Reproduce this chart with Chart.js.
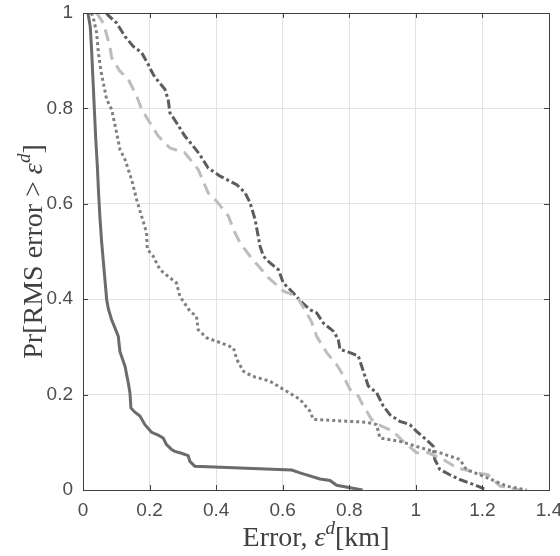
<!DOCTYPE html>
<html>
<head>
<meta charset="utf-8">
<script src="https://cdn.jsdelivr.net/npm/chart.js@4/dist/chart.umd.min.js"></script>
<style>
  body { margin: 0; background: #fff; }
  #wrap { width: 560px; height: 556px; }
</style>
</head>
<body>
<div id="wrap"><canvas id="myChart" width="560" height="556"></canvas></div>
<script>
// x ticks / y ticks
var xTicks = [0, 0.2, 0.4, 0.6, 0.8, 1, 1.2, 1.4]
var yTicks = [0, 0.2, 0.4, 0.6, 0.8, 1]

// solid curve
var solidX = [0.015, 0.022, 0.026, 0.030, 0.034, 0.038, 0.043, 0.047, 0.051, 0.056, 0.061, 0.066, 0.071, 0.076, 0.086, 0.096, 0.106, 0.111, 0.121, 0.126, 0.136, 0.141, 0.144, 0.156, 0.171, 0.186, 0.206, 0.226, 0.241, 0.251, 0.266, 0.276, 0.296, 0.316, 0.321, 0.336, 0.627, 0.652, 0.712, 0.742, 0.762, 0.84]
var solidY = [1.0, 0.97, 0.92, 0.86, 0.80, 0.74, 0.68, 0.62, 0.57, 0.52, 0.48, 0.44, 0.40, 0.38, 0.357, 0.34, 0.322, 0.29, 0.27, 0.26, 0.225, 0.204, 0.172, 0.163, 0.155, 0.137, 0.121, 0.115, 0.109, 0.095, 0.085, 0.081, 0.077, 0.072, 0.06, 0.05, 0.042, 0.036, 0.023, 0.02, 0.01, 0.0]

// dotted curve
var dotX = [0.025, 0.031, 0.041, 0.046, 0.056, 0.061, 0.071, 0.086, 0.101, 0.111, 0.126, 0.146, 0.161, 0.176, 0.191, 0.193, 0.211, 0.231, 0.261, 0.281, 0.291, 0.321, 0.341, 0.346, 0.372, 0.412, 0.452, 0.462, 0.482, 0.507, 0.562, 0.602, 0.652, 0.682, 0.692, 0.852, 0.882, 0.892, 0.952, 1.032, 1.072, 1.132, 1.152, 1.213, 1.273, 1.333]
var dotY = [1.0, 0.99, 0.958, 0.917, 0.87, 0.854, 0.819, 0.798, 0.749, 0.714, 0.693, 0.651, 0.609, 0.574, 0.539, 0.505, 0.49, 0.462, 0.445, 0.434, 0.406, 0.375, 0.364, 0.336, 0.319, 0.309, 0.298, 0.274, 0.249, 0.239, 0.228, 0.211, 0.19, 0.165, 0.148, 0.142, 0.137, 0.109, 0.102, 0.085, 0.078, 0.064, 0.043, 0.026, 0.008, 0.0]

// light dashed curve
var dashX = [0.04, 0.046, 0.061, 0.081, 0.086, 0.111, 0.136, 0.161, 0.176, 0.201, 0.226, 0.261, 0.306, 0.346, 0.376, 0.402, 0.437, 0.452, 0.472, 0.502, 0.557, 0.602, 0.642, 0.672, 0.687, 0.702, 0.732, 0.762, 0.777, 0.802, 0.827, 0.837, 0.867, 0.887, 0.932, 0.962, 1.002, 1.037, 1.082, 1.122, 1.183, 1.217, 1.253, 1.313]
var dashY = [1.0, 0.995, 0.979, 0.93, 0.906, 0.878, 0.861, 0.826, 0.798, 0.77, 0.742, 0.717, 0.707, 0.672, 0.623, 0.605, 0.574, 0.546, 0.518, 0.49, 0.445, 0.417, 0.406, 0.371, 0.352, 0.322, 0.288, 0.263, 0.246, 0.211, 0.197, 0.183, 0.148, 0.137, 0.123, 0.102, 0.078, 0.078, 0.064, 0.047, 0.036, 0.032, 0.008, 0.0]

// dark dash-dot curve
var ddX = [0.07, 0.076, 0.101, 0.126, 0.151, 0.176, 0.196, 0.211, 0.226, 0.246, 0.256, 0.261, 0.281, 0.306, 0.331, 0.351, 0.376, 0.412, 0.462, 0.487, 0.502, 0.517, 0.532, 0.542, 0.562, 0.587, 0.602, 0.632, 0.652, 0.682, 0.702, 0.722, 0.752, 0.767, 0.772, 0.802, 0.827, 0.837, 0.857, 0.882, 0.902, 0.922, 0.952, 0.982, 1.002, 1.037, 1.052, 1.057, 1.072, 1.102, 1.132, 1.172, 1.213]
var ddY = [1.0, 0.995, 0.979, 0.951, 0.93, 0.917, 0.892, 0.871, 0.857, 0.84, 0.818, 0.791, 0.77, 0.742, 0.721, 0.703, 0.675, 0.658, 0.64, 0.623, 0.602, 0.567, 0.511, 0.49, 0.476, 0.462, 0.434, 0.413, 0.397, 0.378, 0.371, 0.35, 0.333, 0.316, 0.295, 0.288, 0.281, 0.26, 0.218, 0.204, 0.176, 0.158, 0.144, 0.137, 0.123, 0.102, 0.092, 0.064, 0.043, 0.032, 0.022, 0.012, 0.0]

function pts(xs, ys) {
  return xs.map(function (x, i) { return { x: x, y: ys[i] } })
}

// tick text like matlab: 0, 0.2, ..., 1
function tickText(v) {
  return String(Math.round(v * 10) / 10)
}

// box + inward ticks + axis titles, MATLAB style
var boxPlugin = {
  id: 'box',
  afterDraw: function (chart) {
    var ctx = chart.ctx
    var a = chart.chartArea
    var xs = chart.scales.x
    var ys = chart.scales.y
    ctx.save()
    ctx.strokeStyle = '#404040'
    ctx.lineWidth = 1
    ctx.beginPath()
    xTicks.forEach(function (t) {
      var px = Math.round(xs.getPixelForValue(t)) + 0.5
      ctx.moveTo(px, a.bottom); ctx.lineTo(px, a.bottom - 5)
      ctx.moveTo(px, a.top); ctx.lineTo(px, a.top + 5)
    })
    yTicks.forEach(function (t) {
      var py = Math.round(ys.getPixelForValue(t)) + 0.5
      ctx.moveTo(a.left, py); ctx.lineTo(a.left + 5, py)
      ctx.moveTo(a.right, py); ctx.lineTo(a.right - 5, py)
    })
    ctx.stroke()
    ctx.strokeRect(Math.round(a.left) + 0.5, Math.round(a.top) + 0.5, Math.round(a.right - a.left), Math.round(a.bottom - a.top))

    // axis titles
    ctx.fillStyle = '#404040'
    ctx.textBaseline = 'alphabetic'
    function drawTitle(parts, cx, cy) {
      var w = 0
      parts.forEach(function (p) { ctx.font = p.f; w += ctx.measureText(p.t).width })
      var x = cx - w / 2
      parts.forEach(function (p) {
        ctx.font = p.f
        ctx.fillText(p.t, x, cy + (p.dy || 0))
        x += ctx.measureText(p.t).width
      })
    }
    var rm = '28px "Liberation Serif", serif'
    var it = 'italic 28px "Liberation Serif", serif'
    var sup = 'italic 19px "Liberation Serif", serif'
    drawTitle([
      { t: 'Error, ', f: rm },
      { t: 'ε', f: it },
      { t: 'd', f: sup, dy: -12 },
      { t: '[km]', f: rm }
    ], (a.left + a.right) / 2, 546)

    ctx.save()
    ctx.translate(32, (a.top + a.bottom) / 2)
    ctx.rotate(-Math.PI / 2)
    drawTitle([
      { t: 'Pr[RMS error > ', f: rm },
      { t: 'ε', f: it },
      { t: 'd', f: sup, dy: -12 },
      { t: ']', f: rm }
    ], 0, 10)
    ctx.restore()
    ctx.restore()
  }
}

var ctx = document.getElementById('myChart')
var myChart = new Chart(ctx, {
  type: 'line',
  data: {
    datasets: [
      {
        label: 'solid',
        data: pts(solidX, solidY),
        borderColor: '#6b6b6b',
        borderWidth: 3
      },
      {
        label: 'dotted',
        data: pts(dotX, dotY),
        borderColor: '#808080',
        borderWidth: 3,
        borderDash: [3, 3]
      },
      {
        label: 'dashed',
        data: pts(dashX, dashY),
        borderColor: '#bdbdbd',
        borderWidth: 3,
        borderDash: [12, 7]
      },
      {
        label: 'dashdot',
        data: pts(ddX, ddY),
        borderColor: '#5c5c5c',
        borderWidth: 3,
        borderDash: [9, 3, 3, 3]
      }
    ]
  },
  options: {
    responsive: false,
    maintainAspectRatio: false,
    animation: false,
    layout: { padding: { top: 13, right: 11, left: 0, bottom: 0 } },
    elements: { point: { radius: 0 }, line: { tension: 0 } },
    plugins: { legend: { display: false }, tooltip: { enabled: false } },
    scales: {
      x: {
        type: 'linear',
        min: 0,
        max: 1.4,
        afterBuildTicks: function (s) { s.ticks = xTicks.map(function (v) { return { value: v } }) },
        afterFit: function (s) { s.height = 66; s.paddingLeft = 0; s.paddingRight = 0 },
        grid: { color: '#e3e3e3', drawTicks: false },
        border: { display: false },
        ticks: {
          padding: 9,
          color: '#4d4d4d',
          font: { family: '"Liberation Sans", Arial, sans-serif', size: 19 },
          maxRotation: 0,
          callback: tickText
        }
      },
      y: {
        type: 'linear',
        min: 0,
        max: 1,
        afterBuildTicks: function (s) { s.ticks = yTicks.map(function (v) { return { value: v } }) },
        afterFit: function (s) { s.width = 83; s.paddingTop = 0; s.paddingBottom = 0 },
        grid: { color: '#e3e3e3', drawTicks: false },
        border: { display: false },
        ticks: {
          padding: 10,
          color: '#4d4d4d',
          font: { family: '"Liberation Sans", Arial, sans-serif', size: 19 },
          callback: tickText
        }
      }
    }
  },
  plugins: [boxPlugin]
})
</script>
</body>
</html>
